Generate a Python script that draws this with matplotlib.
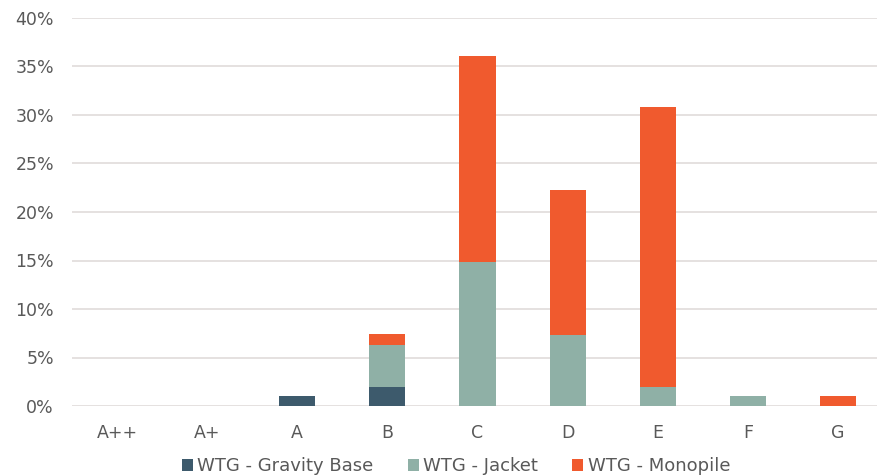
import numpy as np
import matplotlib.pyplot as plt
from matplotlib.ticker import PercentFormatter

categories = ["A++", "A+", "A", "B", "C", "D", "E", "F", "G"]
gravity = [0, 0, 1.0, 2.0, 0, 0, 0, 0, 0]
jacket = [0, 0, 0, 4.3, 14.8, 7.3, 2.0, 1.0, 0]
monopile = [0, 0, 0, 1.1, 21.3, 15.0, 28.8, 0, 1.0]

colors = ["#3D5A6C", "#8FB0A6", "#F05A2E"]
labels = ["WTG - Gravity Base", "WTG - Jacket", "WTG - Monopile"]
text_color = "#595959"


def main():
    plt.rcParams["font.family"] = ["DejaVu Sans"]
    fig = plt.figure(figsize=(8.77, 4.75), dpi=100)
    ax = fig.add_axes([72 / 877, 1 - 406 / 475, (883 - 72) / 877, (406 - 18) / 475])

    x = np.arange(len(categories))
    g = np.array(gravity)
    j = np.array(jacket)
    m = np.array(monopile)
    ax.bar(x, g, width=0.4, color=colors[0], label=labels[0], zorder=3)
    ax.bar(x, j, width=0.4, bottom=g, color=colors[1], label=labels[1], zorder=3)
    ax.bar(x, m, width=0.4, bottom=g + j, color=colors[2], label=labels[2], zorder=3)

    ax.set_xlim(-0.5, len(categories) - 0.5)
    ax.set_ylim(0, 40)
    ax.set_yticks(np.arange(0, 41, 5))
    ax.yaxis.set_major_formatter(PercentFormatter(decimals=0))
    ax.set_xticks(x)
    ax.set_xticklabels(categories)
    ax.grid(axis="y", color="#E0DCDA", linewidth=1.2, zorder=0)
    for s in ax.spines.values():
        s.set_visible(False)
    ax.tick_params(length=0, colors=text_color, labelsize=12.5)
    ax.tick_params(axis="x", pad=13)
    ax.tick_params(axis="y", pad=13)

    fig.legend(loc="lower center", ncol=3, frameon=False, bbox_to_anchor=(0.52, -0.035),
               fontsize=13, handlelength=0.6, handleheight=0.6,
               handletextpad=0.25, columnspacing=1.9, labelcolor=text_color)
    fig.savefig("out.png", dpi=100)


if __name__ == "__main__":
    main()
